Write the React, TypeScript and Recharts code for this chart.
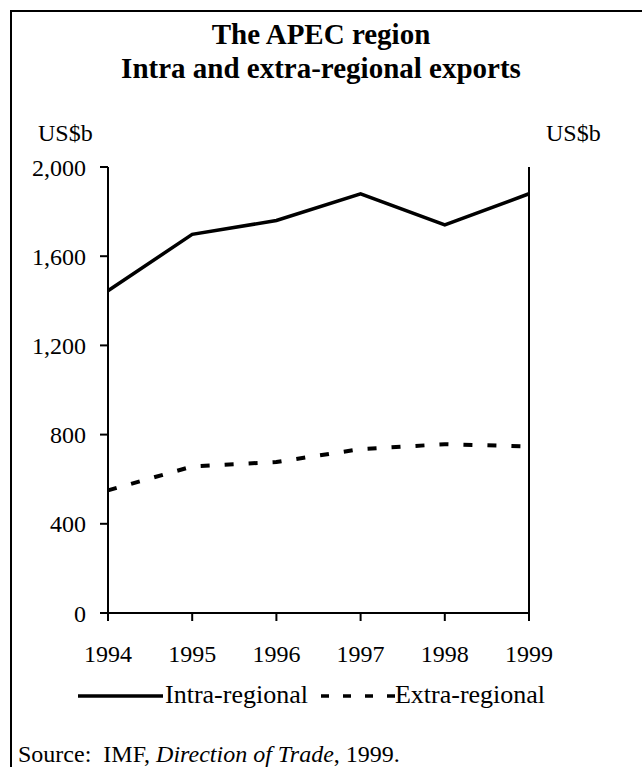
import React from 'react';
import { LineChart, Line, XAxis, YAxis } from 'recharts';

// values, US$ billion
const years = ['1994', '1995', '1996', '1997', '1998', '1999'];
const intraRegional = [1445, 1698, 1760, 1880, 1740, 1880];
const extraRegional = [550, 657, 677, 735, 757, 747];
const yTicks = [0, 400, 800, 1200, 1600, 2000];

const data = years.map((year, i) => ({
  year,
  intra: intraRegional[i],
  extra: extraRegional[i],
}));

const FONT = '"Liberation Serif", "Times New Roman", serif';
const fmt = (v: number) => v.toLocaleString('en-US');
const tickStyle = { fill: '#000', fontSize: 24, fontFamily: FONT };

const Legend = () => (
  <div
    style={{
      position: 'absolute',
      left: 78,
      top: 680,
      display: 'flex',
      alignItems: 'center',
      fontFamily: FONT,
      fontSize: 26,
      lineHeight: '30px',
      color: '#000',
      whiteSpace: 'nowrap',
    }}
  >
    <svg width={85} height={10} style={{ position: 'relative', top: 1 }}>
      <line x1={0} y1={5} x2={85} y2={5} stroke="#000" strokeWidth={3.5} />
    </svg>
    <span style={{ marginLeft: 2 }}>Intra-regional</span>
    <svg width={76} height={10} style={{ marginLeft: 13, position: 'relative', top: 1 }}>
      <line x1={0} y1={5} x2={76} y2={5} stroke="#000" strokeWidth={3.5} strokeDasharray="8 14" />
    </svg>
    <span style={{ marginLeft: -2 }}>Extra-regional</span>
  </div>
);

export default function App() {
  return (
    <div
      style={{
        position: 'absolute',
        left: 0,
        top: 0,
        width: 642,
        height: 767,
        overflow: 'hidden',
        background: '#fff',
        fontFamily: FONT,
      }}
    >
      {/* frame: right and bottom edges fall outside the picture */}
      <div
        style={{
          position: 'absolute',
          left: 10,
          top: 10,
          width: 700,
          height: 800,
          border: '2px solid #000',
          boxSizing: 'border-box',
        }}
      />
      <div
        style={{
          position: 'absolute',
          left: 0,
          top: 17,
          width: 642,
          textAlign: 'center',
          fontWeight: 'bold',
          fontSize: 29,
          lineHeight: '34px',
          color: '#000',
        }}
      >
        <div>The APEC region</div>
        <div>Intra and extra-regional exports</div>
      </div>
      <div style={{ position: 'absolute', left: 38, top: 119, fontSize: 24, lineHeight: '28px' }}>US$b</div>
      <div style={{ position: 'absolute', left: 546, top: 119, fontSize: 24, lineHeight: '28px' }}>US$b</div>

      <div style={{ position: 'absolute', left: 0, top: 0 }}>
        <LineChart
          width={642}
          height={767}
          data={data}
          margin={{ top: 167, right: 13, bottom: 114, left: 8 }}
        >
          <XAxis
            dataKey="year"
            height={40}
            axisLine={{ stroke: '#000', strokeWidth: 2 }}
            tickLine={{ stroke: '#000', strokeWidth: 2 }}
            tickSize={8}
            tickMargin={24}
            tick={tickStyle}
            interval={0}
          />
          <YAxis
            yAxisId="left"
            orientation="left"
            width={100}
            domain={[0, 2000]}
            ticks={yTicks}
            tickFormatter={fmt}
            axisLine={{ stroke: '#000', strokeWidth: 2 }}
            tickLine={{ stroke: '#000', strokeWidth: 2 }}
            tickSize={8}
            tickMargin={14}
            tick={tickStyle}
          />
          <YAxis
            yAxisId="right"
            orientation="right"
            width={100}
            domain={[0, 2000]}
            ticks={yTicks}
            tickFormatter={fmt}
            axisLine={{ stroke: '#000', strokeWidth: 2 }}
            tickLine={{ stroke: '#000', strokeWidth: 2 }}
            tickSize={8}
            tickMargin={14}
            tick={tickStyle}
          />
          <Line
            yAxisId="left"
            type="linear"
            dataKey="intra"
            stroke="#000"
            strokeWidth={3.5}
            dot={false}
            activeDot={false}
            isAnimationActive={false}
          />
          <Line
            yAxisId="left"
            type="linear"
            dataKey="extra"
            stroke="#000"
            strokeWidth={4}
            strokeDasharray="9 15"
            dot={false}
            activeDot={false}
            isAnimationActive={false}
          />
        </LineChart>
      </div>
      <Legend />
      <div style={{ position: 'absolute', left: 18, top: 740, fontSize: 24, lineHeight: '28px', whiteSpace: 'nowrap' }}>
        Source:&nbsp; IMF, <i>Direction of Trade</i>, 1999.
      </div>
    </div>
  );
}
